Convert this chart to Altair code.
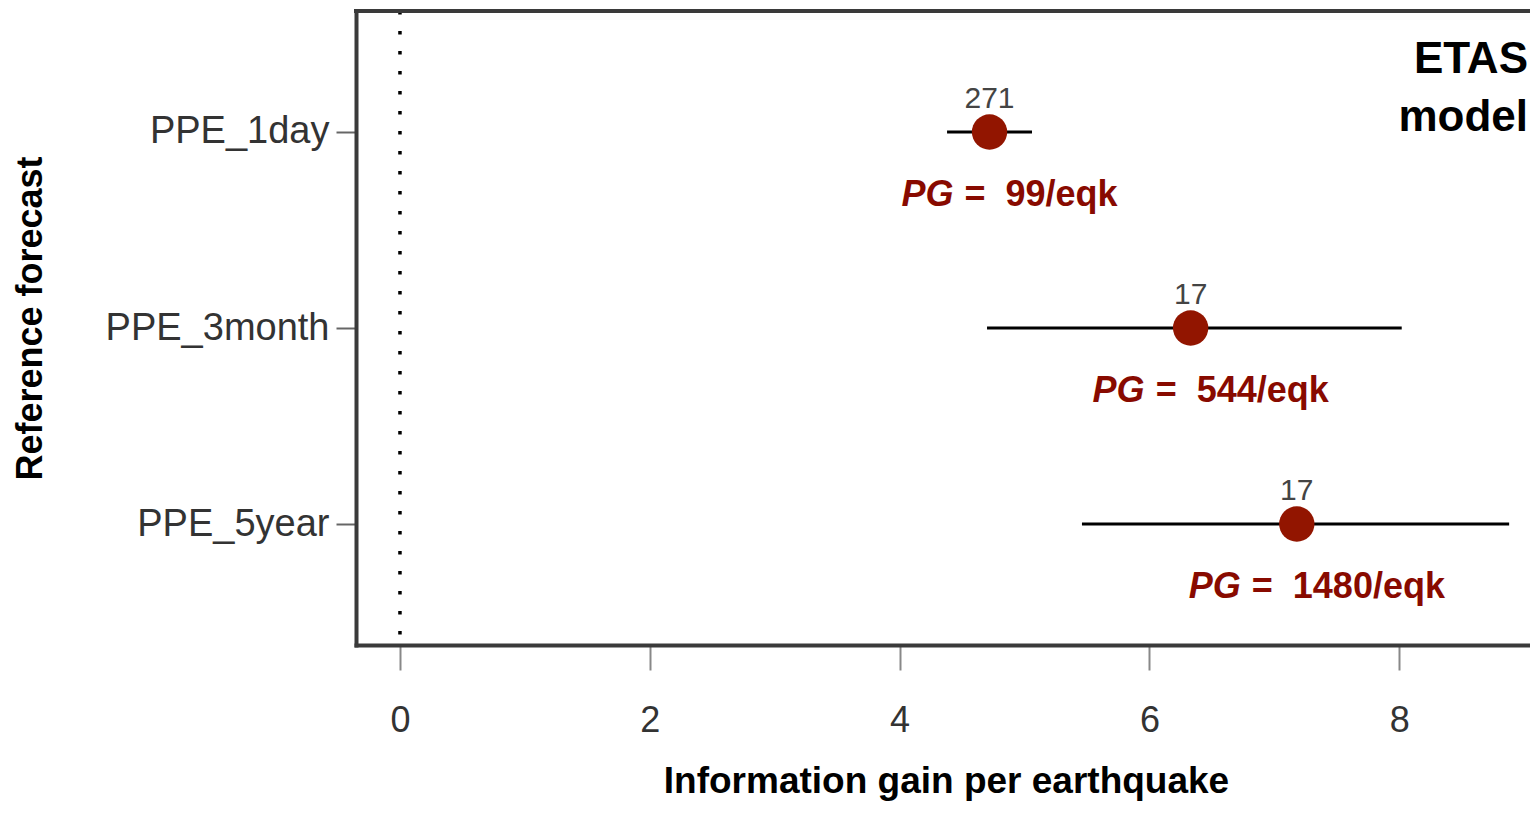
import altair as alt
import pandas as pd

# ---- data ----
forecasts = ["PPE_1day", "PPE_3month", "PPE_5year"]
gain = [4.72, 6.33, 7.18]
lower = [4.38, 4.70, 5.46]
upper = [5.06, 8.02, 8.88]
counts = ["271", "17", "17"]
pg_values = ["99", "544", "1480"]
x_ticks = [0, 2, 4, 6, 8]

NB = "\u00a0"
df = pd.DataFrame({
    "forecast": forecasts,
    "gain": gain,
    "lower": lower,
    "upper": upper,
    "n": counts,
    "pg": pg_values,
})
df["pg_rest"] = ["=" + NB + NB + v + "/eqk" for v in pg_values]

W, H = 1174, 634
FONT = "Liberation Sans, Arial, Helvetica, sans-serif"
DARK_RED = "#921500"
TEXT_RED = "#880a00"
FRAME = "#3a3a3a"

xscale = alt.Scale(domain=[-0.352, 9.047], nice=False, zero=False)
xaxis = alt.Axis(values=x_ticks, format="d", tickSize=25, tickColor="#888888", tickWidth=2,
                 domainColor=FRAME, domainWidth=4, domainCap="square",
                 labelFontSize=36, labelColor="#333333", labelPadding=50,
                 labelBaseline="middle", labelFont=FONT, labelFlush=False,
                 titleFont=FONT, titleFontSize=37, titleFontWeight="bold", titleColor="black",
                 titleY=147, titleBaseline="alphabetic", titleX=590, grid=False)
XTITLE = "Information gain per earthquake"

yscale = alt.Scale(type="point", padding=0.617)
yaxis = alt.Axis(tickSize=20, tickColor="#666666", tickWidth=2,
                 domainColor=FRAME, domainWidth=4, domainCap="square",
                 labelFontSize=38, labelColor="#333333", labelPadding=7, labelFont=FONT,
                 labelLimit=400,
                 titleFont=FONT, titleFontSize=36, titleFontWeight="bold", titleColor="black",
                 titleX=-326, titleY=307, titleAngle=270, titleBaseline="middle",
                 titleAlign="center", grid=False)
YTITLE = "Reference forecast"


def xenc(field):
    return alt.X(field, scale=xscale, axis=xaxis, title=XTITLE)


yenc = alt.Y("forecast:N", sort=forecasts, scale=yscale, axis=yaxis, title=YTITLE)

base = alt.Chart(df)

zero_line = alt.Chart(pd.DataFrame({"gain": [0]})).mark_rule(
    color="black", strokeWidth=3.5, strokeDash=[3.5, 16.5]
).encode(x=xenc("gain:Q"), y=alt.value(0), y2=alt.value(H))

top_border = alt.Chart(pd.DataFrame({"k": [0]})).mark_rule(
    color=FRAME, strokeWidth=4
).encode(x=alt.value(-2), x2=alt.value(W), y=alt.value(0))

ci = base.mark_rule(color="black", strokeWidth=3).encode(
    x=xenc("lower:Q"), x2="upper:Q", y=yenc)

points = base.mark_circle(size=1250, color=DARK_RED, opacity=1).encode(
    x=xenc("gain:Q"), y=yenc)

count_text = base.mark_text(font=FONT, fontSize=30, color="#444444", dy=-33,
                            baseline="middle", align="center").encode(
    x=xenc("gain:Q"), y=yenc, text="n:N")

pg_split = base.transform_calculate(
    split="datum.gain - (16 + 10 * length(datum.pg)) / 124.9"
)

pg_italic = pg_split.mark_text(font=FONT, fontSize=36, fontWeight="bold", fontStyle="italic",
                               color=TEXT_RED, align="right", baseline="middle", dy=63).encode(
    x=xenc("split:Q"), y=yenc, text=alt.value("PG"))

pg_rest = pg_split.mark_text(font=FONT, fontSize=36, fontWeight="bold",
                             color=TEXT_RED, align="left", baseline="middle", dy=63, dx=11).encode(
    x=xenc("split:Q"), y=yenc, text="pg_rest:N")

model_label = alt.Chart(pd.DataFrame({"k": [0]})).mark_text(
    font=FONT, fontSize=44, fontWeight="bold", color="black",
    align="right", baseline="alphabetic", lineHeight=58
).encode(x=alt.value(1172), y=alt.value(62), text=alt.value(["ETAS", "model"]))

chart = alt.layer(
    zero_line, top_border, ci, points, count_text, pg_italic, pg_rest, model_label
).properties(
    width=W, height=H,
    autosize=alt.AutoSizeParams(type="none"),
    padding={"left": 348, "top": 3, "right": 0, "bottom": 157},
).configure_view(stroke=None)

chart.save("out.html", embed_options={"renderer": "svg", "actions": False})
